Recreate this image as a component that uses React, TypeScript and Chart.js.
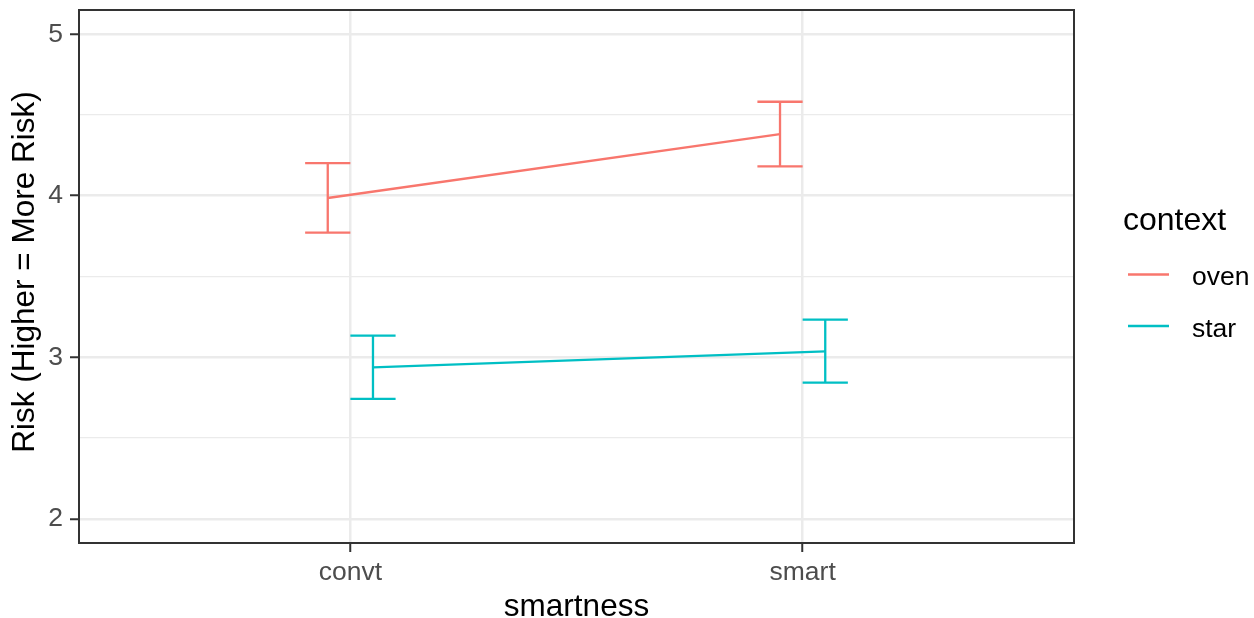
import React, { useEffect, useRef } from 'react';
import { Chart, registerables } from 'chart.js';

Chart.register(...registerables);

const categories = ['convt', 'smart'];
const contexts = ['oven', 'star'];
const contextColors = ['#F8766D', '#00BFC4'];
const ovenMean = [3.986, 4.382];
const ovenLower = [3.772, 4.182];
const ovenUpper = [4.202, 4.582];
const starMean = [2.937, 3.036];
const starLower = [2.742, 2.843];
const starUpper = [3.134, 3.233];
const yTicks = [2, 2.5, 3, 3.5, 4, 4.5, 5];
const xTicks = [1, 2];
const dodgeOffsets = [-0.05, 0.05];
const capHalfWidth = 0.05;
const xTitle = 'smartness';
const yTitle = 'Risk (Higher = More Risk)';
const legendTitle = 'context';

const FONT = '"Liberation Sans", Arial, sans-serif';

const series = [
  { name: contexts[0], color: contextColors[0], mean: ovenMean, lower: ovenLower, upper: ovenUpper },
  { name: contexts[1], color: contextColors[1], mean: starMean, lower: starLower, upper: starUpper },
];

function buildDatasets() {
  const ds: any[] = [];
  series.forEach((s, k) => {
    const bars: any[] = [];
    categories.forEach((_, i) => {
      const x = i + 1 + dodgeOffsets[k];
      bars.push({ x: x - capHalfWidth, y: s.upper[i] });
      bars.push({ x: x + capHalfWidth, y: s.upper[i] });
      bars.push({ x: x, y: null });
      bars.push({ x: x, y: s.upper[i] });
      bars.push({ x: x, y: s.lower[i] });
      bars.push({ x: x, y: null });
      bars.push({ x: x - capHalfWidth, y: s.lower[i] });
      bars.push({ x: x + capHalfWidth, y: s.lower[i] });
      bars.push({ x: x, y: null });
    });
    ds.push({
      label: s.name + ' error',
      data: bars,
      borderColor: s.color,
      borderWidth: 2.3,
      pointRadius: 0,
      spanGaps: false,
      fill: false,
      tension: 0,
    });
    ds.push({
      label: s.name,
      data: categories.map((_, i) => ({ x: i + 1 + dodgeOffsets[k], y: s.mean[i] })),
      borderColor: s.color,
      borderWidth: 2.3,
      pointRadius: 0,
      fill: false,
      tension: 0,
    });
  });
  return ds;
}

const panelBorder = {
  id: 'panelBorder',
  afterDraw(chart: any) {
    const { ctx, chartArea } = chart;
    ctx.save();
    ctx.strokeStyle = '#333333';
    ctx.lineWidth = 2;
    ctx.strokeRect(chartArea.left, chartArea.top, chartArea.right - chartArea.left, chartArea.bottom - chartArea.top);
    ctx.restore();
  },
};

const axisTitles = {
  id: 'axisTitles',
  afterDraw(chart: any) {
    const { ctx, chartArea } = chart;
    ctx.save();
    ctx.fillStyle = '#000000';
    ctx.font = `31.5px ${FONT}`;
    ctx.textAlign = 'center';
    ctx.textBaseline = 'alphabetic';
    ctx.fillText(xTitle, (chartArea.left + chartArea.right) / 2, 615.5);
    ctx.translate(34.3, (chartArea.top + chartArea.bottom) / 2 - 4.5);
    ctx.rotate(-Math.PI / 2);
    ctx.fillText(yTitle, 0, 0);
    ctx.restore();
  },
};

const legendPlugin = {
  id: 'ggLegend',
  afterDraw(chart: any) {
    const { ctx } = chart;
    ctx.save();
    ctx.fillStyle = '#000000';
    ctx.textAlign = 'left';
    ctx.textBaseline = 'alphabetic';
    ctx.font = `32px ${FONT}`;
    ctx.fillText(legendTitle, 1123, 230);
    const keyY = [274.5, 326];
    series.forEach((s, k) => {
      ctx.strokeStyle = s.color;
      ctx.lineWidth = 2.5;
      ctx.beginPath();
      ctx.moveTo(1128, keyY[k]);
      ctx.lineTo(1169, keyY[k]);
      ctx.stroke();
      ctx.fillStyle = '#000000';
      ctx.font = `26.5px ${FONT}`;
      ctx.fillText(s.name, 1192, keyY[k] + 10.5);
    });
    ctx.restore();
  },
};

export default function App() {
  const ref = useRef<HTMLCanvasElement | null>(null);
  useEffect(() => {
    if (!ref.current) return;
    const chart = new Chart(ref.current, {
      type: 'line',
      data: { datasets: buildDatasets() },
      options: {
        responsive: false,
        animation: false,
        layout: { padding: { left: 0, top: 10, right: 180, bottom: 0 } },
        plugins: { legend: { display: false }, tooltip: { enabled: false } },
        scales: {
          x: {
            type: 'linear',
            min: 0.4,
            max: 2.6,
            afterBuildTicks: (s: any) => {
              s.ticks = xTicks.map((v) => ({ value: v }));
            },
            afterFit: (s: any) => {
              s.height = 75;
              s.paddingLeft = 0;
              s.paddingRight = 0;
            },
            ticks: {
              autoSkip: false,
              maxRotation: 0,
              padding: 5,
              color: '#4D4D4D',
              font: { family: FONT, size: 26.5 },
              callback: (v: any) => categories[Math.round(Number(v)) - 1] ?? '',
            },
            grid: { color: '#EBEBEB', lineWidth: 2.5, tickLength: 9, tickColor: '#333333', tickWidth: 2 },
            border: { display: false },
          },
          y: {
            type: 'linear',
            min: 1.85,
            max: 5.15,
            afterBuildTicks: (s: any) => {
              s.ticks = yTicks.map((v) => ({ value: v }));
            },
            afterFit: (s: any) => {
              s.width = 79;
              s.paddingTop = 0;
              s.paddingBottom = 0;
            },
            ticks: {
              autoSkip: false,
              padding: 7,
              color: '#4D4D4D',
              font: { family: FONT, size: 26.5 },
              callback: (v: any) => (Number.isInteger(Number(v)) ? String(v) : ''),
            },
            grid: {
              color: '#EBEBEB',
              lineWidth: (c: any) => (Number.isInteger(c.tick?.value) ? 2.5 : 1.3),
              tickLength: 9,
              tickColor: (c: any) => (Number.isInteger(c.tick?.value) ? '#333333' : 'rgba(0,0,0,0)'),
              tickWidth: 2,
            },
            border: { display: false },
          },
        },
      } as any,
      plugins: [panelBorder, axisTitles, legendPlugin],
    });
    return () => chart.destroy();
  }, []);
  return (
    <div style={{ position: 'fixed', left: 0, top: 0, width: 1254, height: 618, background: '#FFFFFF' }}>
      <canvas ref={ref} width={1254} height={618} style={{ display: 'block' }} />
    </div>
  );
}
